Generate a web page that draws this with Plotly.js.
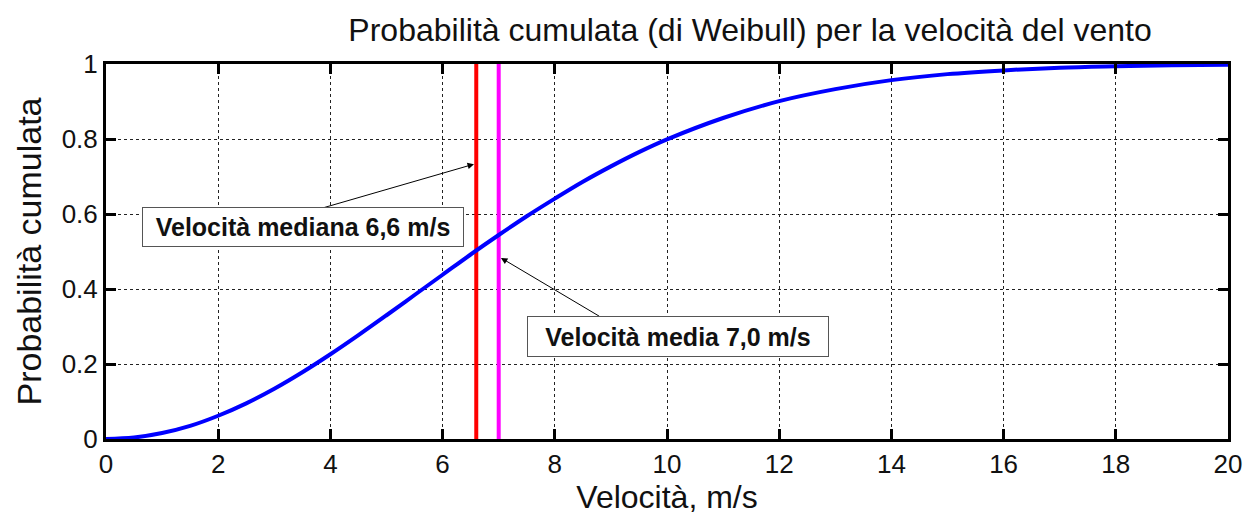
<!DOCTYPE html>
<html>
<head>
<meta charset="utf-8">
<script src="https://cdn.plot.ly/plotly-3.0.1.min.js"></script>
<style>html,body{margin:0;padding:0;background:#fff;}#chart{width:1248px;height:518px;}</style>
</head>
<body>
<div id="chart"></div>
<script>
// Values
const speed = [0, 0.5, 1, 1.5, 2, 2.5, 3, 3.5, 4, 4.5, 5, 5.5, 6, 6.5, 7, 7.5, 8, 8.5, 9, 9.5, 10, 11, 12, 13, 14, 15, 16, 17, 18, 19, 20];
const cumProb = [0, 0.004, 0.016, 0.035, 0.062, 0.095, 0.134, 0.178, 0.226, 0.277, 0.330, 0.384, 0.438, 0.492, 0.544, 0.594, 0.641, 0.686, 0.727, 0.765, 0.799, 0.856, 0.901, 0.933, 0.957, 0.973, 0.983, 0.990, 0.994, 0.997, 0.998];
const medianSpeed = 6.6;
const meanSpeed = 7.0;
const xTicks = [0, 2, 4, 6, 8, 10, 12, 14, 16, 18, 20];
const yTicks = [0, 0.2, 0.4, 0.6, 0.8, 1];
const yTickLabels = ['0', '0.2', '0.4', '0.6', '0.8', '1'];
const medianLabel = 'Velocità mediana 6,6 m/s';
const meanLabel = 'Velocità media 7,0 m/s';

const font = 'Liberation Sans, Arial, sans-serif';

const traces = [
  {x: [medianSpeed, medianSpeed], y: [0, 1], mode: 'lines', line: {color: '#ff0000', width: 4}, hoverinfo: 'skip'},
  {x: [meanSpeed, meanSpeed], y: [0, 1], mode: 'lines', line: {color: '#ff00ff', width: 4}, hoverinfo: 'skip'},
  {x: speed, y: cumProb, mode: 'lines', line: {color: '#0000ff', width: 4, shape: 'spline'}}
];

const axisCommon = {
  showline: true, linecolor: '#000', linewidth: 3, mirror: 'ticks',
  ticks: 'inside', ticklen: 10, tickwidth: 3, tickcolor: '#000',
  showgrid: true, gridcolor: '#222', griddash: 'dot', gridwidth: 1,
  zeroline: false, tickfont: {family: font, size: 26, color: '#111'}
};

const layout = {
  width: 1248, height: 518,
  margin: {l: 106, r: 20, t: 64, b: 79},
  paper_bgcolor: '#fff', plot_bgcolor: '#fff',
  showlegend: false,
  title: {text: 'Probabilità cumulata (di Weibull) per la velocità del vento', font: {family: font, size: 32, color: '#111'},
          x: 0.601, xref: 'container', xanchor: 'center', y: 0.942, yref: 'container', yanchor: 'middle'},
  xaxis: Object.assign({}, axisCommon, {range: [0, 20], tickvals: xTicks, ticktext: xTicks.map(String),
    title: {text: 'Velocità, m/s', font: {family: font, size: 32, color: '#111'}, standoff: 2}}),
  yaxis: Object.assign({}, axisCommon, {range: [0, 1], tickvals: yTicks, ticktext: yTickLabels,
    title: {text: 'Probabilità cumulata', font: {family: font, size: 34, color: '#111'}, standoff: 10}}),
  annotations: [
    {x: 6.56, y: 0.733, ax: 3.86, ay: 0.616, axref: 'x', ayref: 'y', xref: 'x', yref: 'y', text: '',
     showarrow: true, arrowhead: 2, arrowsize: 1.3, arrowwidth: 1, arrowcolor: '#000'},
    {x: 7.04, y: 0.483, ax: 8.82, ay: 0.325, axref: 'x', ayref: 'y', xref: 'x', yref: 'y', text: '',
     showarrow: true, arrowhead: 2, arrowsize: 1.3, arrowwidth: 1, arrowcolor: '#000'},
    {x: 3.52, y: 0.565, xref: 'x', yref: 'y', text: '<b>' + medianLabel + '</b>', showarrow: false,
     width: 312, height: 30, font: {family: font, size: 25, color: '#111'}, bgcolor: '#fff', bordercolor: '#555', borderwidth: 1, borderpad: 4},
    {x: 10.2, y: 0.273, xref: 'x', yref: 'y', text: '<b>' + meanLabel + '</b>', showarrow: false,
     width: 292, height: 31, font: {family: font, size: 25, color: '#111'}, bgcolor: '#fff', bordercolor: '#555', borderwidth: 1, borderpad: 4}
  ]
};

Plotly.newPlot('chart', traces, layout, {displayModeBar: false, staticPlot: true});
</script>
</body>
</html>
